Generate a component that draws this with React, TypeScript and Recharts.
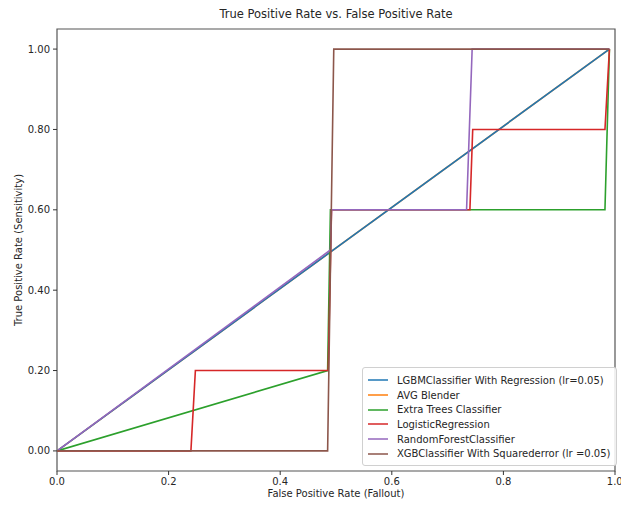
import {
  LineChart,
  Line,
  XAxis,
  YAxis,
  Legend,
  ReferenceArea,
} from "recharts";

// ROC points per model (false positive rate / true positive rate)
const lgbmFpr = [0, 0.99];
const lgbmTpr = [0, 1.0];

const avgFpr = [0, 0.99];
const avgTpr = [0, 1.0];

const extraFpr = [0, 0.485, 0.49, 0.982, 0.99];
const extraTpr = [0, 0.2, 0.6, 0.6, 1.0];

const logregFpr = [0, 0.24, 0.248, 0.486, 0.492, 0.74, 0.745, 0.982, 0.99];
const logregTpr = [0, 0, 0.2, 0.2, 0.6, 0.6, 0.8, 0.8, 1.0];

const rfFpr = [0, 0.49, 0.492, 0.734, 0.744, 0.99];
const rfTpr = [0, 0.5, 0.6, 0.6, 1.0, 1.0];

const xgbFpr = [0, 0.485, 0.496, 0.99];
const xgbTpr = [0, 0, 1.0, 1.0];

const xTicks = [0, 0.2, 0.4, 0.6, 0.8, 1.0];
const yTicks = [0, 0.2, 0.4, 0.6, 0.8, 1.0];

const zip = (xs: number[], ys: number[]) => xs.map((x, i) => ({ x, y: ys[i] }));

const series = [
  { name: "LGBMClassifier With Regression (lr=0.05)", color: "#1f77b4", data: zip(lgbmFpr, lgbmTpr) },
  { name: "AVG Blender", color: "#ff7f0e", data: zip(avgFpr, avgTpr) },
  { name: "Extra Trees Classifier", color: "#2ca02c", data: zip(extraFpr, extraTpr) },
  { name: "LogisticRegression", color: "#d62728", data: zip(logregFpr, logregTpr) },
  { name: "RandomForestClassifier", color: "#9467bd", data: zip(rfFpr, rfTpr) },
  { name: "XGBClassifier With Squarederror (lr =0.05)", color: "#8c564b", data: zip(xgbFpr, xgbTpr) },
];

// blender sits under the LGBM line in the picture, so draw it first
const drawOrder = [1, 0, 2, 3, 4, 5];

const font = "'DejaVu Sans', sans-serif";
const textColor = "#262626";

const LegendBox = () => (
  <div
    style={{
      border: "1px solid #d0d0d0",
      borderRadius: 3,
      background: "rgba(255,255,255,0.85)",
      padding: "5px 6px 4px 4px",
      fontFamily: font,
      fontSize: 10,
      color: textColor,
      whiteSpace: "nowrap",
    }}
  >
    {series.map((s) => (
      <div key={s.name} style={{ display: "flex", alignItems: "center", height: 14.7 }}>
        <svg width={22} height={4} style={{ marginRight: 8 }}>
          <line x1={1} y1={2} x2={21} y2={2} stroke={s.color} strokeWidth={1.5} />
        </svg>
        <span>{s.name}</span>
      </div>
    ))}
  </div>
);

const App = () => {
  return (
    <div
      style={{
        position: "absolute",
        left: 0,
        top: 0,
        width: 621,
        height: 505,
        background: "#fff",
      }}
    >
      <div
        style={{
          position: "absolute",
          top: 7,
          left: 57,
          width: 558,
          textAlign: "center",
          fontFamily: font,
          fontSize: 11.5,
          color: textColor,
        }}
      >
        True Positive Rate vs. False Positive Rate
      </div>
      <div
        style={{
          position: "absolute",
          top: 488,
          left: 57,
          width: 558,
          textAlign: "center",
          fontFamily: font,
          fontSize: 10,
          color: textColor,
        }}
      >
        False Positive Rate (Fallout)
      </div>
      <div
        style={{
          position: "absolute",
          left: 18,
          top: 250,
          transform: "translate(-50%, -50%) rotate(-90deg)",
          fontFamily: font,
          fontSize: 10,
          color: textColor,
          whiteSpace: "nowrap",
        }}
      >
        True Positive Rate (Sensitivity)
      </div>
      <LineChart
        width={621}
        height={505}
        margin={{ top: 29, right: 6, bottom: 4, left: 0 }}
      >
        <XAxis
          type="number"
          dataKey="x"
          domain={[0, 1]}
          ticks={xTicks}
          tickFormatter={(v: number) => v.toFixed(1)}
          height={30}
          tickSize={4}
          tickMargin={3}
          axisLine={false}
          tickLine={{ stroke: "#333" }}
          tick={{ fontFamily: font, fontSize: 10, fill: textColor }}
          allowDataOverflow
        />
        <YAxis
          type="number"
          dataKey="y"
          domain={[-0.05, 1.05]}
          ticks={yTicks}
          tickFormatter={(v: number) => v.toFixed(2)}
          width={57}
          tickSize={4}
          tickMargin={3}
          axisLine={false}
          tickLine={{ stroke: "#333" }}
          tick={{ fontFamily: font, fontSize: 10, fill: textColor }}
          allowDataOverflow
        />
        <ReferenceArea
          x1={0}
          x2={1}
          y1={-0.05}
          y2={1.05}
          fill="none"
          stroke="#555"
          strokeWidth={1.2}
        />
        {drawOrder.map((i) => (
          <Line
            key={series[i].name}
            data={series[i].data}
            dataKey="y"
            name={series[i].name}
            type="linear"
            stroke={series[i].color}
            strokeWidth={1.6}
            dot={false}
            activeDot={false}
            isAnimationActive={false}
          />
        ))}
        <Legend
          layout="vertical"
          align="center"
          verticalAlign="middle"
          content={() => <LegendBox />}
          wrapperStyle={{ left: 362, top: 367, width: "auto" }}
        />
      </LineChart>
    </div>
  );
};

export default App;
